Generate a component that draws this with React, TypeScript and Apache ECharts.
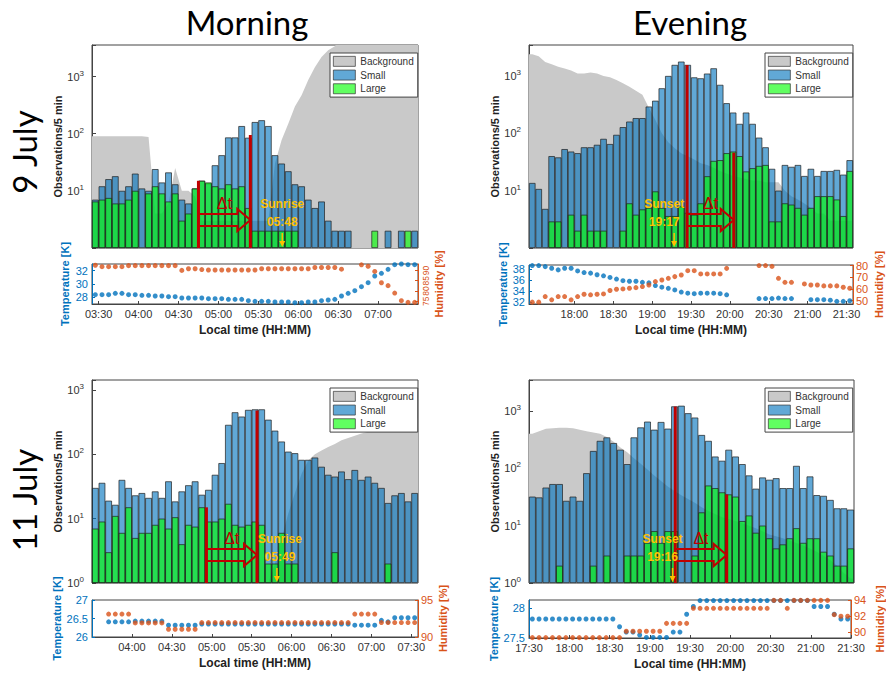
import React, { useEffect, useRef } from "react";
import * as echarts from "echarts";

const BIN = 5;

// ---------- 9 July, morning ----------
const TL_START = "03:25";
const TL_SMALL = [7, 12, 16, 18, 10, 12, 20, 11, 10, 24, 14, 21, 13, 7, 6, 11, 15, 13.5, 28, 42, 86, 86, 136, 85, 160, 172, 136, 42, 30, 22, 13, 12, 7, 5, 6.5, 3, 2, 2, 2, 0, 0, 0, 0, 0, 2, 0, 2, 0, 2];
const TL_LARGE = [6.5, 7, 7.5, 6, 6, 7, 10, 0, 9, 12, 9, 6.5, 9, 3, 4, 11, 15, 14, 12, 11, 13, 11, 12, 5, 2, 2, 2, 2, 2, 2, 2, 0, 0, 0, 0, 0, 0, 0, 0, 0, 0, 0, 2, 0, 0, 0, 0, 2, 0];
const TL_BACKGROUND = [90, 90, 90, 90, 90, 90, 90, 90, 88, 4, 4, 6, 25, 10, 10, 8, 3, 3, 3, 3, 3, 3, 3, 3, 3, 3, 3, 30, 78, 150, 300, 470, 870, 1450, 2200, 2900, 3400, 5000, 5000, 5000, 5000, 5000, 5000, 5000, 5000, 5000, 5000, 5000, 5000];
const TL_TEMPERATURE = [28.4, 28.4, 28.4, 28.6, 28.6, 28.4, 28.4, 28.3, 28.3, 28.2, 28.2, 28.1, 28.1, 27.9, 27.9, 27.9, 27.9, 27.8, 27.8, 27.8, 27.7, 27.7, 27.7, 27.5, 27.4, 27.4, 27.4, 27.3, 27.3, 27.3, 27.2, 27.2, 27.3, 27.3, 27.5, 27.6, 27.7, 28.2, 28.6, 29.0, 29.6, 30.2, 31.2, 31.6, 32.2, 32.9, 33.0, 32.9, 32.9];
const TL_HUMIDITY = [92.5, 91.8, 91.8, 91.8, 91.8, 92.3, 92.3, 92.3, 92.3, 92.3, 92.3, 92.3, 92.3, 90.0, 90.8, 90.8, 90.4, 90.2, 90.2, 90.2, 90.2, 90.2, 90.2, 90.2, 90.2, 90.8, 90.8, 90.8, 90.8, 90.8, 90.8, 90.8, 90.8, 91.4, 91.4, 91.4, 91.4, 90.6, 93.2, 93.2, 92.7, 92.0, 89.5, 84.0, 82.6, 79.0, 75.3, 74.5, 74.5];
const TL_TIME_TICKS = ["03:30", "04:00", "04:30", "05:00", "05:30", "06:00", "06:30", "07:00"];
const TL_TEMP_TICKS = [28, 30, 32];
const TL_HUM_TICKS = [75, 80, 85, 90];
const TL_EVENT = { start: "04:45", startHeight: 15, end: "05:24", endHeight: 95, sun: "05:48", label: "Sunrise" };

// ---------- 9 July, evening ----------
const TR_START = "17:25";
const TR_SMALL = [13.6, 10.7, 4.8, 40, 38, 53, 48, 45, 57, 57, 63, 80, 65, 94, 128, 160, 184, 184, 293, 370, 610, 1000, 1560, 1780, 1560, 945, 910, 1100, 1360, 700, 335, 230, 146, 230, 146, 84, 57, 24, 10, 28, 26, 28, 18, 24, 18, 22, 22, 23, 19, 34];
const TR_LARGE = [0, 0, 0, 2.9, 2.9, 0, 3.8, 2, 3.8, 2, 2, 2, 0, 0, 2, 6, 3.8, 4.7, 5, 9.7, 5, 3.6, 3.6, 5.3, 4.1, 3.8, 6, 17.8, 33, 34, 45, 48, 40, 21.6, 24.6, 27, 28, 2.9, 2.9, 6, 5.7, 5, 3.8, 5, 8, 8, 8, 7, 3.6, 22];
const TR_BACKGROUND = [2400, 2200, 1750, 1600, 1450, 1350, 1250, 1100, 1100, 1150, 1100, 1000, 950, 850, 750, 650, 550, 470, 280, 170, 100, 70, 55, 45, 40, 35, 30, 28, 25, 22, 20, 18, 17, 16, 15, 15, 14, 14, 14, 10, 8, 7, 6, 5, 4, 4, 3, 3, 3, 3];
const TR_TEMPERATURE = [38.7, 38.7, 38.5, 38.2, 37.9, 38.2, 38.2, 37.7, 37.4, 37.3, 37.0, 36.8, 36.5, 36.2, 35.9, 35.8, 35.8, 35.6, 35.5, 35.0, 34.7, 34.5, 34.2, 33.8, 33.6, 33.5, 33.6, 33.6, 33.6, 33.5, 33.3, null, null, null, null, 32.6, 32.6, 32.6, 32.7, 32.6, 32.6, null, null, 32.4, 32.4, 32.4, 32.3, 32.1, 32.1, 32.2];
const TR_HUMIDITY = [48.6, 48.6, 53.4, 50.6, 53.4, 53.4, 50.6, 53.4, 55.4, 54.9, 55.4, 55.7, 58.6, 59.7, 60, 60.6, 61.1, 62, 63.4, 66.3, 67.7, 69.1, 70.6, 72, 75.7, 75.7, 72.9, 72.9, 72.9, 72.9, 77.7, null, null, null, null, 80.1, 80.1, 79.4, 69.1, 65.7, 65.7, null, 64.3, 63.4, 63.4, 62.6, 62.6, 62.6, 61.4, 60.6];
const TR_TIME_TICKS = ["18:00", "18:30", "19:00", "19:30", "20:00", "20:30", "21:00", "21:30"];
const TR_TEMP_TICKS = [32, 34, 36, 38];
const TR_HUM_TICKS = [50, 60, 70, 80];
const TR_EVENT = { start: "19:27", startHeight: 1550, end: "20:03", endHeight: 46, sun: "19:17", label: "Sunset" };

// ---------- 11 July, morning ----------
const BL_START = "03:30";
const BL_SMALL = [30, 36, 19, 16.4, 40, 30, 23, 25, 21, 26.5, 21, 38, 18.5, 26.5, 33, 38, 23.5, 28, 48, 73, 287, 450, 386, 490, 500, 500, 345, 233, 158, 110, 104, 82, 82, 89, 64, 48, 45, 54, 41, 57, 40, 45, 36, 30, 17.5, 23, 25, 18.5, 25];
const BL_LARGE = [7, 9, 3, 11, 6, 15, 5, 6, 6, 8, 10, 7, 10.5, 4, 8, 7.5, 15, 9, 9, 10, 17, 8, 7.5, 8, 9, 8, 2, 2, 6, 2, 2, 0, 0, 0, 0, 0, 3, 0, 0, 0, 0, 0, 0, 0, 2, 0, 0, 0, 0];
const BL_BACKGROUND = [1, 1, 1, 1, 1, 1, 1, 1, 1, 1, 1, 1, 1, 1, 1, 1, 1, 1, 1, 1, 1, 1, 1, 1, 1, 1, 1, 2, 5, 12, 25, 50, 80, 100, 115, 130, 145, 165, 180, 195, 210, 225, 240, 255, 275, 295, 315, 340, 360];
const BL_TEMPERATURE = [null, null, 26.41, 26.41, 26.41, 26.41, 26.43, 26.43, 26.43, 26.43, 26.43, 26.32, 26.32, 26.32, 26.32, 26.32, 26.35, 26.35, 26.35, 26.35, 26.35, 26.35, 26.35, 26.35, 26.35, 26.35, 26.35, 26.35, 26.35, 26.35, 26.35, 26.35, 26.35, 26.35, 26.35, 26.35, 26.35, 26.35, 26.35, 26.32, 26.32, 26.32, 26.32, 26.45, 26.41, 26.52, 26.52, 26.52, 26.52];
const BL_HUMIDITY = [null, null, 93.1, 93.1, 93.1, 93.1, 91.9, 91.9, 91.9, 91.9, 91.9, 91.05, 91.05, 91.05, 91.05, 91.05, 91.95, 91.95, 91.95, 91.95, 91.95, 91.95, 91.95, 91.95, 91.95, 91.95, 91.95, 91.95, 91.95, 91.95, 91.95, 91.95, 91.95, 91.95, 91.95, 91.95, 91.95, 91.95, 91.95, 93.1, 93.1, 93.1, 93.1, 91.95, 91.95, 91.95, 91.95, 91.95, 91.95];
const BL_TIME_TICKS = ["04:00", "04:30", "05:00", "05:30", "06:00", "06:30", "07:00", "07:30"];
const BL_TEMP_TICKS = [26, 26.5, 27];
const BL_HUM_TICKS = [90, 95];
const BL_EVENT = { start: "04:56", startHeight: 15, end: "05:34", endHeight: 480, sun: "05:49", label: "Sunrise" };

// ---------- 11 July, evening ----------
const BR_START = "17:30";
const BR_SMALL = [32, 31, 46, 53, 53, 27, 32, 27, 82, 200, 300, 345, 275, 210, 118, 345, 515, 650, 470, 640, 490, 1200, 1230, 910, 765, 380, 300, 160, 135, 210, 160, 118, 75, 44, 69, 63, 67, 45, 45, 110, 45, 72, 34, 33, 28, 20, 20, 19];
const BR_LARGE = [0, 0, 0, 0, 2, 0, 0, 0, 0, 2, 0, 3, 0, 0, 3, 3, 3, 5, 8, 5, 8, 8, 0, 0, 3, 17, 50, 45, 38, 35, 32, 12, 15, 7.5, 10, 6, 4, 4.7, 6, 9, 5, 6, 6, 3.5, 3, 2, 2, 4];
const BR_BACKGROUND = [400, 440, 490, 500, 510, 510, 500, 470, 440, 420, 400, 350, 290, 230, 190, 150, 120, 95, 75, 60, 48, 40, 34, 29, 25, 21, 18, 16, 14, 13, 12, 11, 10, 9, 8, 7, 6.5, 6, 5.5, 5, 4.5, 4, 3.5, 3, 2.5, 2, 1.5, 1.2];
const BR_TEMPERATURE = [27.82, 27.82, 27.82, 27.82, 27.82, 27.82, 27.82, 27.82, 27.82, 27.82, 27.82, 27.82, 27.82, 27.69, 27.6, 27.6, 27.55, 27.51, 27.51, 27.51, 27.51, 27.6, 27.6, 27.9, 28.03, 28.13, 28.13, 28.13, 28.13, 28.13, 28.13, 28.13, 28.13, 28.13, 28.13, 28.13, 28.13, 28.13, 28.13, 28.13, 28.13, 28.13, 28.03, 28.03, 28.03, 27.9, 27.82, 27.82];
const BR_HUMIDITY = [89.3, 89.3, 89.3, 89.3, 89.3, 89.3, 89.3, 89.3, 89.3, 89.3, 89.3, 89.3, 89.3, 89.3, 90.1, 90.1, 90.1, 90.1, 90.1, 90.1, 91.1, 91.1, 91.1, 91.1, 93.0, 93.0, 93.0, 93.0, 93.0, 93.0, 93.0, 93.0, 93.0, 93.0, 93.0, 93.0, 94, 94, 93.0, 94, 94, 94, 94, 94, 94, 92.2, 92, 92];
const BR_TIME_TICKS = ["17:30", "18:00", "18:30", "19:00", "19:30", "20:00", "20:30", "21:00", "21:30"];
const BR_TEMP_TICKS = [27.5, 28];
const BR_HUM_TICKS = [90, 92, 94];
const BR_EVENT = { start: "19:18", startHeight: 1190, end: "19:56", endHeight: 35, sun: "19:16", label: "Sunset" };

const FONT = "Liberation Sans, Arial, Helvetica, sans-serif";
const BLUE = "#0072BD";
const ORANGE = "#D95319";
const RED = "#C00000";
const YELLOW = "#FFC000";
const GRAY = "#C9C9C9";
const BLUE_BAR = "rgba(0,114,189,0.62)";
const GREEN_BAR = "rgba(0,255,0,0.62)";
const EDGE = "#1f1f1f";
const AXIS = "#444";

const toMin = (s: string) => {
  const [h, m] = s.split(":").map(Number);
  return h * 60 + m;
};
const fmt = (v: number) => {
  const h = Math.floor(v / 60);
  const m = Math.round(v - h * 60);
  return `${String(h).padStart(2, "0")}:${String(m).padStart(2, "0")}`;
};

const PANELS = [
  {
    start: TL_START, small: TL_SMALL, large: TL_LARGE, bg: TL_BACKGROUND, temp: TL_TEMPERATURE, hum: TL_HUMIDITY,
    timeTicks: TL_TIME_TICKS, tempTicks: TL_TEMP_TICKS, humTicks: TL_HUM_TICKS, event: TL_EVENT,
    yMax: 3570, show0: false, tempRange: [27, 33], humRange: [73.7, 93.1],
    hist: { left: 92, top: 45, width: 326, height: 203 }, th: { left: 92, top: 264, width: 326, height: 40 },
    legend: [330, 53], obsGap: 22, tGap: 22, hGap: 15, humRotate: 90, humSize: 8.5, textShift: 0,
  },
  {
    start: TR_START, small: TR_SMALL, large: TR_LARGE, bg: TR_BACKGROUND, temp: TR_TEMPERATURE, hum: TR_HUMIDITY,
    timeTicks: TR_TIME_TICKS, tempTicks: TR_TEMP_TICKS, humTicks: TR_HUM_TICKS, event: TR_EVENT,
    yMax: 3470, show0: false, tempRange: [31.6, 38.8], humRange: [47, 80.6],
    hist: { left: 529, top: 45, width: 324, height: 203 }, th: { left: 529, top: 265, width: 324, height: 39 },
    legend: [765, 53], obsGap: 27, tGap: 21, hGap: 20, humRotate: 0, humSize: 11, textShift: -10,
  },
  {
    start: BL_START, small: BL_SMALL, large: BL_LARGE, bg: BL_BACKGROUND, temp: BL_TEMPERATURE, hum: BL_HUMIDITY,
    timeTicks: BL_TIME_TICKS, tempTicks: BL_TEMP_TICKS, humTicks: BL_HUM_TICKS, event: BL_EVENT,
    yMax: 1430, show0: true, tempRange: [26, 27], humRange: [90, 95],
    hist: { left: 92, top: 380, width: 326, height: 203 }, th: { left: 92, top: 600, width: 326, height: 37 },
    legend: [330, 388], obsGap: 24, tGap: 21, hGap: 17, humRotate: 0, humSize: 11, textShift: 3,
  },
  {
    start: BR_START, small: BR_SMALL, large: BR_LARGE, bg: BR_BACKGROUND, temp: BR_TEMPERATURE, hum: BR_HUMIDITY,
    timeTicks: BR_TIME_TICKS, tempTicks: BR_TEMP_TICKS, humTicks: BR_HUM_TICKS, event: BR_EVENT,
    yMax: 3460, show0: true, tempRange: [27.5, 28.14], humRange: [89.25, 94.05],
    hist: { left: 529, top: 380, width: 325, height: 203 }, th: { left: 529, top: 600, width: 325, height: 38 },
    legend: [765, 388], obsGap: 27, tGap: 30, hGap: 23, humRotate: 0, humSize: 11, textShift: -10,
  },
];

function makeEventRenderer(ev: any, textShift: number) {
  return (_params: any, api: any) => {
    const a = api.coord([toMin(ev.start), ev.startHeight]);
    const b = api.coord([toMin(ev.end), ev.endHeight]);
    const base = api.coord([toMin(ev.start), 1])[1];
    const s = api.coord([toMin(ev.sun), 1])[0];
    const cy = base - 28;
    const xh = b[0] - 13;
    const txt = (text: string, x: number, y: number, fill: string, size: number, weight: string) => ({
      type: "text",
      x,
      y,
      style: { text, fill, fontSize: size, fontWeight: weight, fontFamily: FONT, align: "center", verticalAlign: "middle" },
    });
    return {
      type: "group",
      children: [
        { type: "line", shape: { x1: a[0], y1: base, x2: a[0], y2: a[1] }, style: { stroke: RED, lineWidth: 3 } },
        { type: "line", shape: { x1: b[0], y1: base, x2: b[0], y2: b[1] }, style: { stroke: RED, lineWidth: 3 } },
        {
          type: "polyline",
          shape: { points: [[a[0], cy - 6], [xh, cy - 6], [xh, cy - 11], [b[0], cy], [xh, cy + 11], [xh, cy + 6], [a[0], cy + 6]] },
          style: { fill: "none", stroke: RED, lineWidth: 2 },
        },
        txt("Δt", (a[0] + b[0]) / 2, base - 45, RED, 16, "normal"),
        txt(ev.label, s + textShift, base - 44, YELLOW, 12, "bold"),
        txt(ev.sun, s + textShift, base - 26, YELLOW, 12, "bold"),
        { type: "line", shape: { x1: s, y1: base - 15, x2: s, y2: base - 6 }, style: { stroke: YELLOW, lineWidth: 1.5 } },
        { type: "polygon", shape: { points: [[s - 3, base - 7], [s + 3, base - 7], [s, base - 1]] }, style: { fill: YELLOW } },
      ],
    };
  };
}

function buildOption() {
  const grid: any[] = [];
  const xAxis: any[] = [];
  const yAxis: any[] = [];
  const series: any[] = [];
  const legend: any[] = [];

  PANELS.forEach((p, k) => {
    const t0 = toMin(p.start);
    const n = p.small.length;
    const t1 = t0 + n * BIN;
    const gH = 2 * k;
    const gT = 2 * k + 1;
    grid.push({ ...p.hist, show: true, borderColor: AXIS, borderWidth: 1, backgroundColor: "transparent" });
    grid.push({ ...p.th, show: true, borderColor: AXIS, borderWidth: 1, backgroundColor: "transparent" });

    const xCat = xAxis.length;
    xAxis.push({ type: "category", gridIndex: gH, data: p.small.map((_, i) => fmt(t0 + i * BIN)), show: false });
    const xVal = xAxis.length;
    xAxis.push({ type: "value", gridIndex: gH, min: t0, max: t1, show: false });
    const xTime = xAxis.length;
    const timeVals = p.timeTicks.map(toMin);
    xAxis.push({
      type: "value", gridIndex: gT, min: t0, max: t1, position: "bottom",
      axisLine: { show: true, lineStyle: { color: AXIS } },
      axisTick: { show: true, inside: true, length: 3, customValues: timeVals, lineStyle: { color: AXIS } },
      axisLabel: { customValues: timeVals, formatter: (v: number) => fmt(v), color: "#333", fontSize: 11, margin: 4, fontFamily: FONT, showMinLabel: true, showMaxLabel: true },
      splitLine: { show: false },
      name: "Local time (HH:MM)", nameLocation: "middle", nameGap: 20,
      nameTextStyle: { fontWeight: "bold", fontSize: 12, color: "#222", fontFamily: FONT },
    });

    const yLog = yAxis.length;
    yAxis.push({
      type: "log", logBase: 10, gridIndex: gH, min: 1, max: p.yMax,
      axisLine: { show: true, lineStyle: { color: AXIS } },
      axisTick: { show: true, inside: true, length: 4, lineStyle: { color: AXIS } },
      axisLabel: {
        fontFamily: FONT,
        margin: 8,
        formatter: (v: number) => {
          const l = Math.log10(v);
          const e = Math.round(l);
          if (Math.abs(l - e) > 1e-6) return "";
          if (e === 0 && !p.show0) return "";
          return `{b|10}{s|${e}}`;
        },
        rich: {
          b: { fontSize: 11, color: "#333", fontFamily: FONT },
          s: { fontSize: 8, color: "#333", fontFamily: FONT, padding: [0, 0, 7, 0] },
        },
      },
      splitLine: { show: false },
      name: "Observations/5 min", nameLocation: "middle", nameGap: p.obsGap, nameRotate: 90,
      nameTextStyle: { fontWeight: "bold", fontSize: 11, color: "#222", fontFamily: FONT },
    });
    const yTemp = yAxis.length;
    yAxis.push({
      type: "value", gridIndex: gT, min: p.tempRange[0], max: p.tempRange[1], position: "left",
      axisLine: { show: true, lineStyle: { color: BLUE } },
      axisTick: { show: true, inside: true, length: 3, customValues: p.tempTicks, lineStyle: { color: BLUE } },
      axisLabel: { customValues: p.tempTicks, color: BLUE, fontSize: 11, margin: 4, fontFamily: FONT, showMinLabel: true, showMaxLabel: true },
      splitLine: { show: false },
      name: "Temperature [K]", nameLocation: "middle", nameGap: p.tGap, nameRotate: 90,
      nameTextStyle: { color: BLUE, fontWeight: "bold", fontSize: 11, fontFamily: FONT },
    });
    const yHum = yAxis.length;
    yAxis.push({
      type: "value", gridIndex: gT, min: p.humRange[0], max: p.humRange[1], position: "right",
      axisLine: { show: true, lineStyle: { color: ORANGE } },
      axisTick: { show: true, inside: true, length: 3, customValues: p.humTicks, lineStyle: { color: ORANGE } },
      axisLabel: {
        customValues: p.humTicks, color: ORANGE, fontSize: p.humSize, margin: 3, fontFamily: FONT,
        rotate: p.humRotate, showMinLabel: true, showMaxLabel: true, hideOverlap: false,
      },
      splitLine: { show: false },
      name: "Humidity [%]", nameLocation: "middle", nameGap: p.hGap, nameRotate: 90,
      nameTextStyle: { color: ORANGE, fontWeight: "bold", fontSize: 11, fontFamily: FONT },
    });

    const bgData: any[] = [[t0, p.bg[0]]];
    p.bg.forEach((v, i) => bgData.push([t0 + BIN / 2 + i * BIN, v]));
    bgData.push([t1, p.bg[p.bg.length - 1]]);

    series.push({
      type: "line", name: "Background", xAxisIndex: xVal, yAxisIndex: yLog, data: bgData,
      showSymbol: false, symbol: "none", clip: true, silent: true,
      lineStyle: { width: 0, color: GRAY }, itemStyle: { color: GRAY },
      areaStyle: { color: GRAY, opacity: 1, origin: "start" }, z: 1,
    });
    series.push({
      type: "bar", name: "Small", xAxisIndex: xCat, yAxisIndex: yLog,
      data: p.small.map((v) => (v > 0 ? v : null)),
      barCategoryGap: "0%", barGap: "-100%", silent: true,
      itemStyle: { color: BLUE_BAR, borderColor: EDGE, borderWidth: 0.7 }, z: 2,
    });
    series.push({
      type: "bar", name: "Large", xAxisIndex: xCat, yAxisIndex: yLog,
      data: p.large.map((v) => (v > 0 ? v : null)),
      barCategoryGap: "0%", barGap: "-100%", silent: true,
      itemStyle: { color: GREEN_BAR, borderColor: EDGE, borderWidth: 0.7 }, z: 2,
    });
    series.push({
      type: "custom", xAxisIndex: xVal, yAxisIndex: yLog, data: [[t0, 1]], silent: true, z: 5,
      renderItem: makeEventRenderer(p.event, p.textShift),
    });
    const tempData: any[] = [];
    p.temp.forEach((v, i) => { if (v != null) tempData.push([t0 + BIN / 2 + i * BIN, v]); });
    const humData: any[] = [];
    p.hum.forEach((v, i) => { if (v != null) humData.push([t0 + BIN / 2 + i * BIN, v]); });
    series.push({
      type: "scatter", name: "Temperature", xAxisIndex: xTime, yAxisIndex: yTemp, data: tempData,
      symbolSize: 5, itemStyle: { color: BLUE }, silent: true, z: 3,
    });
    series.push({
      type: "scatter", name: "Humidity", xAxisIndex: xTime, yAxisIndex: yHum, data: humData,
      symbolSize: 5, itemStyle: { color: ORANGE }, silent: true, z: 4,
    });

    legend.push({
      left: p.legend[0], top: p.legend[1], orient: "vertical", selectedMode: false,
      data: [
        { name: "Background", icon: "rect" },
        { name: "Small", icon: "rect" },
        { name: "Large", icon: "rect" },
      ],
      itemWidth: 22, itemHeight: 10, itemGap: 3, padding: [3, 4, 3, 3],
      backgroundColor: "#fff", borderColor: AXIS, borderWidth: 1,
      itemStyle: { borderColor: "#333", borderWidth: 0.7 },
      textStyle: { fontSize: 10, color: "#333", fontFamily: FONT },
    });
  });

  const title = (text: string, x: number, y: number, rotation = 0) => ({
    type: "text", x, y, rotation,
    style: { text, fontSize: 33, fontFamily: "Lato, Carlito, Open Sans, sans-serif", fill: "#000", align: "center", verticalAlign: "middle" },
  });

  return {
    animation: false,
    backgroundColor: "#fff",
    textStyle: { fontFamily: FONT },
    grid, xAxis, yAxis, series, legend,
    graphic: [
      title("Morning", 247, 22),
      title("Evening", 690, 22),
      title("9 July", 24, 152, Math.PI / 2),
      title("11 July", 24, 500, Math.PI / 2),
    ],
  };
}

export default function App() {
  const ref = useRef<HTMLDivElement>(null);
  useEffect(() => {
    if (!ref.current) return;
    const chart = echarts.init(ref.current, undefined, { renderer: "svg" });
    chart.setOption(buildOption() as any);
    return () => chart.dispose();
  }, []);
  return (
    <div
      ref={ref}
      style={{ position: "fixed", left: 0, top: 0, width: 886, height: 687, background: "#fff" }}
    />
  );
}
